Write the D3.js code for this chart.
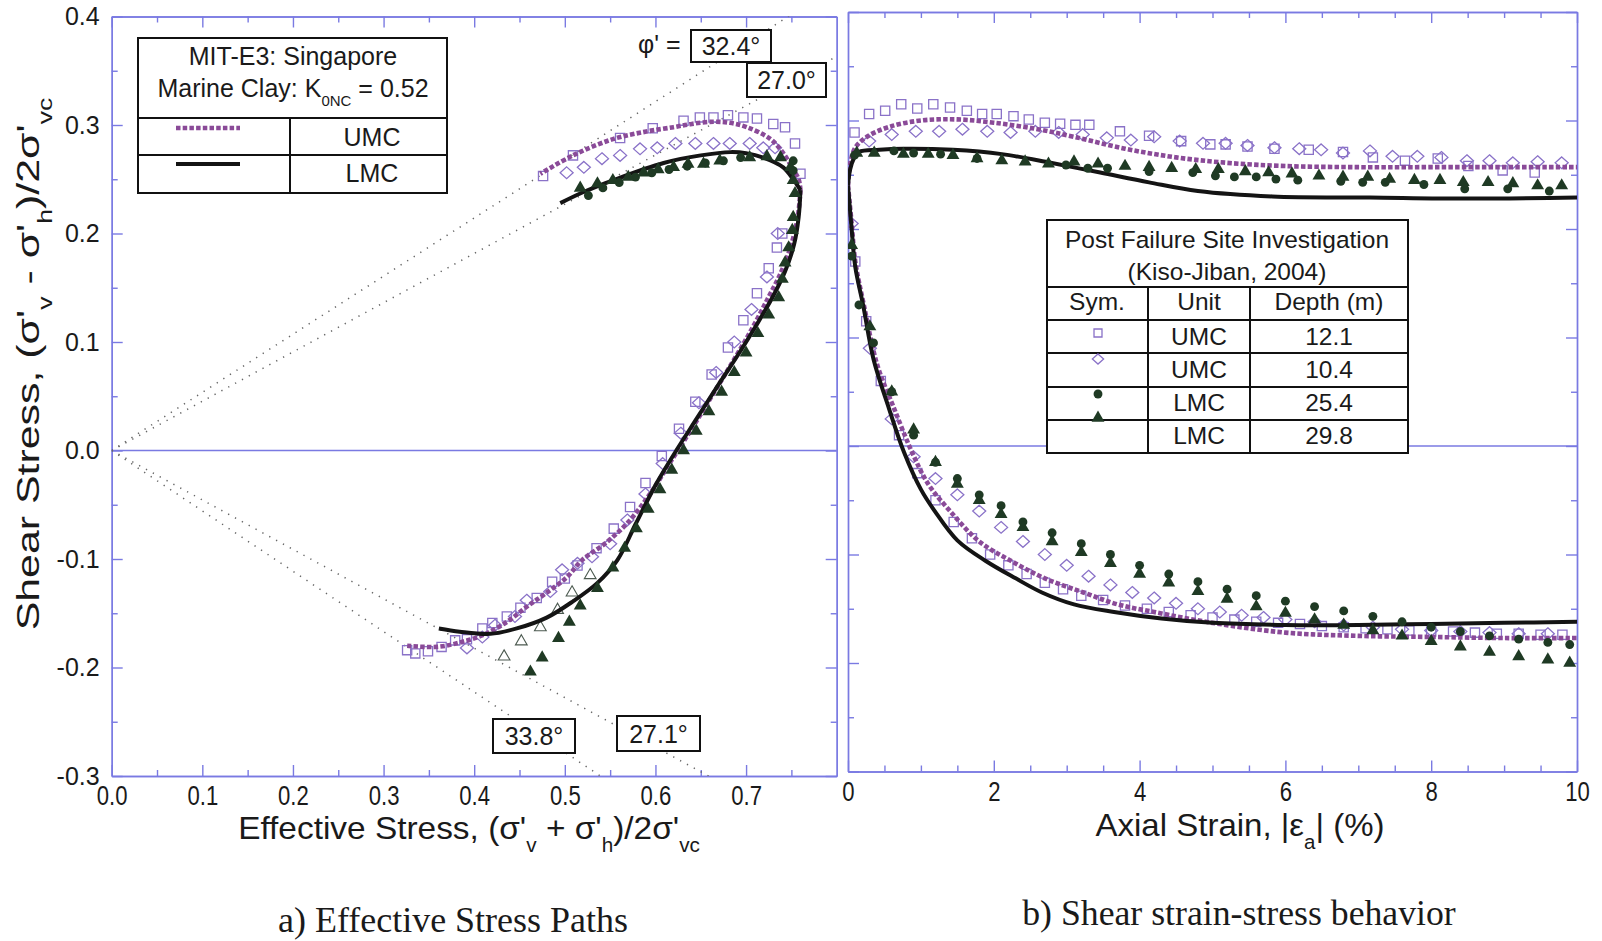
<!DOCTYPE html>
<html>
<head>
<meta charset="utf-8">
<script src="https://cdn.jsdelivr.net/npm/d3@7"></script>
<style>
  body { margin: 0; background: #fff; }
  svg text { font-family: "Liberation Sans", Arial, sans-serif; fill: #1a1a1a; }
  .serif { font-family: "Liberation Serif", "Times New Roman", serif; }
</style>
</head>
<body>
<svg id="chart" width="1602" height="941"></svg>
<script>
// ---------------- data ----------------
// a) effective stress paths: [p' , q] normalised by sigma'vc
const umcModelComp = [[0.760,0.240],[0.758,0.250],[0.752,0.259],[0.741,0.274],[0.727,0.287],[0.701,0.298],[0.682,0.302],[0.664,0.303],[0.640,0.301],[0.620,0.298],[0.590,0.294],[0.553,0.287],[0.509,0.272],[0.473,0.255]];
const lmcModelComp = [[0.760,0.240],[0.752,0.250],[0.741,0.261],[0.719,0.270],[0.700,0.274],[0.683,0.275],[0.650,0.272],[0.609,0.265],[0.553,0.249],[0.520,0.238],[0.495,0.228]];
const umcModelExt = [[0.760,0.240],[0.757,0.215],[0.750,0.190],[0.739,0.165],[0.724,0.140],[0.705,0.110],[0.684,0.080],[0.662,0.050],[0.640,0.020],[0.617,-0.010],[0.594,-0.040],[0.570,-0.066],[0.544,-0.086],[0.519,-0.101],[0.502,-0.117],[0.480,-0.131],[0.458,-0.144],[0.436,-0.158],[0.410,-0.170],[0.384,-0.177],[0.359,-0.181],[0.326,-0.180]];
const lmcModelExt = [[0.760,0.240],[0.758,0.215],[0.753,0.190],[0.743,0.165],[0.729,0.141],[0.711,0.115],[0.691,0.088],[0.669,0.060],[0.646,0.030],[0.623,0.000],[0.600,-0.032],[0.578,-0.068],[0.558,-0.101],[0.536,-0.122],[0.509,-0.139],[0.480,-0.154],[0.447,-0.164],[0.418,-0.169],[0.384,-0.167],[0.361,-0.164]];

const sq121Comp = [[0.476,0.253],[0.509,0.272],[0.561,0.288],[0.597,0.297],[0.631,0.304],[0.649,0.307],[0.664,0.307],[0.680,0.309],[0.697,0.307],[0.712,0.306],[0.730,0.301],[0.743,0.298],[0.754,0.283],[0.760,0.255]];
const dia104Comp = [[0.502,0.256],[0.521,0.261],[0.541,0.269],[0.561,0.272],[0.583,0.278],[0.602,0.279],[0.622,0.283],[0.644,0.283],[0.664,0.283],[0.682,0.283],[0.704,0.283],[0.719,0.279],[0.732,0.279]];
const circ254Comp = [[0.526,0.235],[0.542,0.242],[0.560,0.247],[0.578,0.252],[0.596,0.256],[0.615,0.259],[0.635,0.262],[0.655,0.265],[0.675,0.267],[0.694,0.270],[0.752,0.267],[0.752,0.258]];
const tri298Comp = [[0.517,0.242],[0.536,0.246],[0.553,0.249],[0.570,0.252],[0.587,0.256],[0.603,0.259],[0.620,0.261],[0.636,0.264],[0.653,0.264],[0.671,0.267],[0.704,0.270],[0.723,0.271],[0.738,0.270],[0.749,0.261],[0.752,0.249],[0.754,0.237]];

const sq121Ext = [[0.740,0.200],[0.734,0.187],[0.725,0.168],[0.712,0.145],[0.697,0.120],[0.680,0.095],[0.662,0.070],[0.644,0.045],[0.626,0.020],[0.607,-0.005],[0.589,-0.030],[0.572,-0.052],[0.554,-0.072],[0.535,-0.090],[0.514,-0.106],[0.500,-0.118],[0.486,-0.121],[0.469,-0.136],[0.451,-0.145],[0.436,-0.153],[0.420,-0.159],[0.409,-0.164],[0.392,-0.174],[0.379,-0.175],[0.364,-0.181],[0.349,-0.185],[0.335,-0.187],[0.326,-0.184]];
const dia104Ext = [[0.735,0.200],[0.723,0.160],[0.706,0.130],[0.687,0.100],[0.667,0.072],[0.648,0.044],[0.628,0.016],[0.608,-0.012],[0.589,-0.040],[0.569,-0.064],[0.550,-0.086],[0.530,-0.098],[0.514,-0.104],[0.497,-0.110],[0.484,-0.130],[0.458,-0.138],[0.445,-0.153],[0.423,-0.161],[0.409,-0.172],[0.392,-0.182]];
const tri298Ext = [[0.462,-0.204],[0.475,-0.191],[0.493,-0.173],[0.505,-0.158],[0.517,-0.143],[0.536,-0.127],[0.553,-0.108],[0.566,-0.090],[0.579,-0.072],[0.592,-0.054],[0.605,-0.036],[0.618,-0.018],[0.631,0.000],[0.645,0.018],[0.659,0.036],[0.673,0.054],[0.687,0.072],[0.700,0.090],[0.713,0.108],[0.725,0.125],[0.736,0.141],[0.740,0.158],[0.743,0.173],[0.747,0.187],[0.751,0.203],[0.752,0.215]];
const openTriExt = [[0.528,-0.115],[0.508,-0.131],[0.492,-0.147],[0.473,-0.163],[0.452,-0.176],[0.433,-0.190]];

// friction angles of the failure envelopes (degrees)
const phiComp = [32.4, 27.0];
const phiExt = [33.8, 27.1];

// b) shear stress vs axial strain: [strain %, q]
const umcStrainComp = [[0,0.240],[0.03,0.260],[0.1,0.275],[0.26,0.285],[0.56,0.294],[1.0,0.300],[1.5,0.301],[2.0,0.298],[2.6,0.292],[3.1,0.285],[3.8,0.274],[4.5,0.266],[5.2,0.261],[6,0.258],[7,0.257],[8,0.257],[9,0.257],[10,0.257]];
const lmcStrainComp = [[0,0.240],[0.03,0.255],[0.08,0.265],[0.15,0.271],[0.43,0.273],[0.76,0.274],[1.44,0.273],[2.11,0.269],[2.78,0.261],[3.46,0.252],[4.13,0.243],[4.80,0.235],[5.82,0.230],[7.16,0.229],[8.51,0.228],[10,0.229]];
const umcStrainExt = [[0,0.240],[0.05,0.205],[0.1,0.170],[0.22,0.129],[0.4,0.075],[0.63,0.035],[0.88,-0.006],[1.1,-0.035],[1.4,-0.060],[1.8,-0.088],[2.24,-0.106],[2.7,-0.122],[3.23,-0.135],[3.7,-0.146],[4.2,-0.153],[5,-0.163],[6,-0.172],[7,-0.175],[8,-0.176],[9,-0.177],[10,-0.177]];
const lmcStrainExt = [[0,0.240],[0.05,0.200],[0.1,0.165],[0.21,0.129],[0.35,0.080],[0.56,0.035],[0.77,-0.006],[1.0,-0.040],[1.19,-0.060],[1.5,-0.087],[1.89,-0.106],[2.3,-0.122],[2.66,-0.135],[3.1,-0.146],[3.65,-0.153],[4.3,-0.159],[5,-0.163],[6,-0.165],[7,-0.165],[8,-0.164],[9,-0.163],[10,-0.162]];

const sq121Strain = [[0.09,0.289],[0.29,0.306],[0.51,0.309],[0.73,0.315],[0.95,0.311],[1.17,0.315],[1.40,0.312],[1.63,0.309],[1.84,0.306],[2.04,0.306],[2.27,0.304],[2.48,0.301],[2.70,0.298],[2.91,0.297],[3.12,0.296],[3.31,0.296],[3.73,0.290],[4.13,0.286],[4.57,0.281],[4.97,0.278],[5.18,0.278],[5.48,0.276],[5.85,0.274],[6.32,0.273],[6.79,0.271],[7.20,0.266],[7.64,0.263],[8.09,0.265],[8.51,0.258],[8.98,0.254],[9.42,0.252],
  [0.10,0.170],[0.25,0.115],[0.45,0.060],[0.70,0.010],[0.95,-0.025],[1.20,-0.050],[1.45,-0.070],[1.70,-0.085],[1.95,-0.100],[2.20,-0.110],[2.45,-0.118],[2.70,-0.126],[2.95,-0.132],[3.20,-0.138],[3.50,-0.142],[3.80,-0.147],[4.10,-0.150],[4.40,-0.153],[4.70,-0.156],[5.00,-0.158],[5.30,-0.160],[5.60,-0.162],[5.90,-0.163],[6.20,-0.164],[6.50,-0.166],[6.80,-0.167],[7.10,-0.168],[7.40,-0.169],[7.70,-0.170],[8.00,-0.171],[8.30,-0.171],[8.60,-0.172],[8.90,-0.173],[9.20,-0.173],[9.50,-0.174],[9.80,-0.174]];
const dia104Strain = [[0.29,0.281],[0.60,0.287],[0.93,0.290],[1.25,0.290],[1.57,0.292],[1.91,0.290],[2.23,0.289],[2.57,0.290],[2.89,0.289],[3.22,0.287],[3.55,0.284],[3.88,0.282],[4.20,0.285],[4.55,0.281],[4.87,0.279],[5.18,0.279],[5.48,0.277],[5.85,0.275],[6.19,0.274],[6.49,0.273],[6.79,0.270],[7.16,0.272],[7.47,0.267],[7.81,0.267],[8.14,0.266],[8.49,0.263],[8.80,0.263],[9.12,0.261],[9.46,0.262],[9.79,0.261],
  [0.05,0.205],[0.30,0.090],[0.60,0.025],[0.90,-0.010],[1.20,-0.030],[1.50,-0.045],[1.80,-0.060],[2.10,-0.075],[2.40,-0.088],[2.70,-0.100],[3.00,-0.110],[3.30,-0.120],[3.60,-0.128],[3.90,-0.135],[4.20,-0.140],[4.50,-0.145],[4.80,-0.150],[5.10,-0.153],[5.40,-0.156],[5.70,-0.158],[6.00,-0.160],[6.40,-0.162],[6.80,-0.165],[7.20,-0.167],[7.60,-0.169],[8.00,-0.170],[8.40,-0.171],[8.80,-0.172],[9.20,-0.173],[9.60,-0.173]];
const circ254Strain = [[0.09,0.268],[0.63,0.272],[0.90,0.270],[1.27,0.269],[1.77,0.265],[2.99,0.259],[3.29,0.256],[3.56,0.256],[4.13,0.253],[4.73,0.252],[5.04,0.249],[5.30,0.248],[5.60,0.248],[5.87,0.246],[6.17,0.245],[6.76,0.244],[7.06,0.243],[7.37,0.243],[7.90,0.241],[8.46,0.237],[9.05,0.237],[9.62,0.235],
  [0.05,0.175],[0.15,0.130],[0.35,0.095],[0.60,0.050],[0.90,0.010],[1.20,-0.015],[1.50,-0.030],[1.80,-0.045],[2.10,-0.055],[2.40,-0.070],[2.80,-0.080],[3.20,-0.090],[3.60,-0.100],[4.00,-0.110],[4.40,-0.118],[4.80,-0.125],[5.20,-0.132],[5.60,-0.138],[6.00,-0.143],[6.40,-0.148],[6.80,-0.152],[7.20,-0.157],[7.60,-0.162],[8.00,-0.167],[8.40,-0.171],[8.80,-0.175],[9.20,-0.178],[9.60,-0.181],[9.90,-0.183]];
const tri298Strain = [[0.12,0.270],[0.36,0.270],[0.76,0.269],[1.10,0.269],[1.44,0.268],[1.77,0.265],[2.11,0.263],[2.43,0.262],[2.75,0.260],[3.10,0.262],[3.43,0.260],[3.80,0.258],[4.13,0.257],[4.44,0.256],[4.77,0.255],[5.08,0.255],[5.45,0.253],[5.77,0.252],[6.09,0.251],[6.46,0.249],[6.79,0.248],[7.13,0.248],[7.43,0.246],[7.77,0.245],[8.12,0.245],[8.44,0.243],[8.78,0.243],[9.12,0.242],[9.46,0.240],[9.79,0.240],
  [0.05,0.185],[0.30,0.110],[0.60,0.050],[0.90,0.015],[1.20,-0.015],[1.50,-0.035],[1.80,-0.050],[2.10,-0.063],[2.40,-0.075],[2.80,-0.088],[3.20,-0.098],[3.60,-0.108],[4.00,-0.118],[4.40,-0.126],[4.80,-0.134],[5.20,-0.141],[5.60,-0.148],[6.00,-0.154],[6.40,-0.160],[6.80,-0.165],[7.20,-0.170],[7.60,-0.175],[8.00,-0.180],[8.40,-0.185],[8.80,-0.190],[9.20,-0.194],[9.60,-0.197],[9.90,-0.200]];

// axis ticks
const pTicks = [0, 0.1, 0.2, 0.3, 0.4, 0.5, 0.6, 0.7];
const pMinor = [0.05, 0.15, 0.25, 0.35, 0.45, 0.55, 0.65, 0.75];
const qTicks = [-0.3, -0.2, -0.1, 0, 0.1, 0.2, 0.3, 0.4];
const qMinor = [-0.25, -0.15, -0.05, 0.05, 0.15, 0.25, 0.35];
const strainTicks = [0, 2, 4, 6, 8, 10];
const strainMinor = [0.5, 1, 1.5, 2.5, 3, 3.5, 4.5, 5, 5.5, 6.5, 7, 7.5, 8.5, 9, 9.5];

// legend tables
const modelRows = [["UMC", "dash"], ["LMC", "solid"]];
const siteRows = [["square", "UMC", "12.1"], ["diamond", "UMC", "10.4"], ["circle", "LMC", "25.4"], ["triangle", "LMC", "29.8"]];

// ---------------- styles ----------------
const AX = "#7a7ae2";
const PURPLE_LINE = "#8a4a98";
const PURPLE_MK = "#8a72c8";
const GREEN = "#1f3a24";

const svg = d3.select("#chart");

// scales
const xL = d3.scaleLinear().domain([0, 0.8]).range([111.7, 836.7]);
const yL = d3.scaleLinear().domain([-0.3, 0.4]).range([776, 16.5]);
const xR = d3.scaleLinear().domain([0, 10]).range([848, 1577]);
const yR = d3.scaleLinear().domain([-0.3, 0.4]).range([771.5, 12]);

const defs = svg.append("defs");
function clip(id, x, y) {
  defs.append("clipPath").attr("id", id).append("rect")
    .attr("x", x.range()[0]).attr("y", y.range()[1])
    .attr("width", x.range()[1] - x.range()[0]).attr("height", y.range()[0] - y.range()[1]);
}
clip("clipL", xL, yL);
clip("clipR", xR, yR);

// frame with inward ticks on all four sides
function frame(x, y, xMaj, xMin, yMaj, yMin, xFmt, yFmt) {
  const g = svg.append("g").attr("color", AX);
  const [x0, x1] = x.range(), [y0, y1] = y.range();
  const put = (axis, tx, ty) => g.append("g").attr("transform", `translate(${tx},${ty})`).call(axis);
  const bot = put(d3.axisBottom(x).tickValues(xMaj).tickSizeInner(-11).tickSizeOuter(0).tickPadding(10).tickFormat(xFmt || ""), 0, y0);
  put(d3.axisBottom(x).tickValues(xMin).tickSizeInner(-6).tickSizeOuter(0).tickFormat(""), 0, y0);
  put(d3.axisTop(x).tickValues(xMaj).tickSizeInner(-11).tickSizeOuter(0).tickFormat(""), 0, y1);
  put(d3.axisTop(x).tickValues(xMin).tickSizeInner(-6).tickSizeOuter(0).tickFormat(""), 0, y1);
  const left = put(d3.axisLeft(y).tickValues(yMaj).tickSizeInner(-11).tickSizeOuter(0).tickPadding(12).tickFormat(yFmt || ""), x0, 0);
  put(d3.axisLeft(y).tickValues(yMin).tickSizeInner(-6).tickSizeOuter(0).tickFormat(""), x0, 0);
  put(d3.axisRight(y).tickValues(yMaj).tickSizeInner(-11).tickSizeOuter(0).tickFormat(""), x1, 0);
  put(d3.axisRight(y).tickValues(yMin).tickSizeInner(-6).tickSizeOuter(0).tickFormat(""), x1, 0);
  g.selectAll("path, line").attr("stroke-width", 1.4);
  // zero line
  g.append("line").attr("x1", x0).attr("x2", x1).attr("y1", y(0)).attr("y2", y(0))
    .attr("stroke", AX).attr("stroke-width", 1.4);
  bot.selectAll("text").attr("font-size", 27).attr("fill", "#1a1a1a")
    .attr("font-family", "Liberation Sans, Arial, sans-serif").attr("transform", "scale(0.82,1)");
  left.selectAll("text").attr("font-size", 25).attr("fill", "#1a1a1a")
    .attr("font-family", "Liberation Sans, Arial, sans-serif");
  return g;
}

frame(xL, yL, pTicks, pMinor, qTicks, qMinor, d => d.toFixed(1), d => d.toFixed(1));
frame(xR, yR, strainTicks, strainMinor, qTicks, qMinor, d => String(d), null);

// ---------------- marks ----------------
const diamondType = { draw(ctx, size) { const w = Math.sqrt(size) * 0.62, h = Math.sqrt(size) * 0.56; ctx.moveTo(0, -h); ctx.lineTo(w, 0); ctx.lineTo(0, h); ctx.lineTo(-w, 0); ctx.closePath(); } };
const symbolDefs = {
  square:   { type: d3.symbolSquare,   size: 85,  fill: "none", stroke: PURPLE_MK, sw: 1.3 },
  diamond:  { type: diamondType,       size: 110, fill: "none", stroke: PURPLE_MK, sw: 1.3 },
  circle:   { type: d3.symbolCircle,   size: 62,  fill: GREEN,  stroke: "none",    sw: 0 },
  triangle: { type: d3.symbolTriangle, size: 72,  fill: GREEN,  stroke: "none",    sw: 0 },
  openTri:  { type: d3.symbolTriangle, size: 60,  fill: "none", stroke: "#4c5a50", sw: 1.1 }
};
function markers(g, data, x, y, kind) {
  const s = symbolDefs[kind];
  g.append("g").selectAll("path").data(data).join("path")
    .attr("transform", d => `translate(${x(d[0])},${y(d[1])})`)
    .attr("d", d3.symbol(s.type, s.size)())
    .attr("fill", s.fill).attr("stroke", s.stroke).attr("stroke-width", s.sw);
}
function curve(g, data, x, y, kind) {
  const line = d3.line().x(d => x(d[0])).y(d => y(d[1])).curve(d3.curveCatmullRom.alpha(0.5));
  const p = g.append("path").attr("d", line(data)).attr("fill", "none").attr("stroke-linecap", "butt");
  if (kind === "dash") p.attr("stroke", PURPLE_LINE).attr("stroke-width", 4.6).attr("stroke-dasharray", "4.5,2.2");
  else p.attr("stroke", "#141414").attr("stroke-width", 4);
}

// panel a
const gL = svg.append("g").attr("clip-path", "url(#clipL)");
const envelope = (phi, sign) => [[0, 0], [0.8, sign * 0.8 * Math.sin(phi * Math.PI / 180)]];
[[phiComp, 1], [phiExt, -1]].forEach(([phis, sign]) => phis.forEach(phi =>
  gL.append("path").attr("d", d3.line().x(d => xL(d[0])).y(d => yL(d[1]))(envelope(phi, sign)))
    .attr("stroke", "#666").attr("stroke-width", 1.5).attr("stroke-dasharray", "1.3,6.5").attr("fill", "none")));

markers(gL, sq121Comp, xL, yL, "square");
markers(gL, sq121Ext, xL, yL, "square");
markers(gL, dia104Comp, xL, yL, "diamond");
markers(gL, dia104Ext, xL, yL, "diamond");
markers(gL, openTriExt, xL, yL, "openTri");
curve(gL, umcModelComp, xL, yL, "dash");
curve(gL, umcModelExt, xL, yL, "dash");
curve(gL, lmcModelComp, xL, yL, "solid");
curve(gL, lmcModelExt, xL, yL, "solid");
markers(gL, circ254Comp, xL, yL, "circle");
markers(gL, tri298Comp, xL, yL, "triangle");
markers(gL, tri298Ext, xL, yL, "triangle");

// panel b
const gR = svg.append("g").attr("clip-path", "url(#clipR)");
markers(gR, sq121Strain, xR, yR, "square");
markers(gR, dia104Strain, xR, yR, "diamond");
curve(gR, umcStrainComp, xR, yR, "dash");
curve(gR, umcStrainExt, xR, yR, "dash");
curve(gR, lmcStrainComp, xR, yR, "solid");
curve(gR, lmcStrainExt, xR, yR, "solid");
markers(gR, circ254Strain, xR, yR, "circle");
markers(gR, tri298Strain, xR, yR, "triangle");

// ---------------- annotation boxes ----------------
function box(x, y, w, h) {
  svg.append("rect").attr("x", x).attr("y", y).attr("width", w).attr("height", h)
    .attr("fill", "#fff").attr("stroke", "#111").attr("stroke-width", 2);
}
function label(txt, x, y, size, anchor) {
  return svg.append("text").attr("x", x).attr("y", y).attr("font-size", size)
    .attr("text-anchor", anchor || "middle").text(txt);
}
svg.append("text").attr("x", 638).attr("y", 53).attr("font-size", 25).text("\u03c6' =");
box(691, 30, 80, 32);  label(phiComp[0].toFixed(1) + "\u00b0", 731, 55, 25);
box(747, 63, 79, 34);  label(phiComp[1].toFixed(1) + "\u00b0", 786.5, 89, 25);
box(493, 719, 82, 34); label(phiExt[0].toFixed(1) + "\u00b0", 534, 745, 25);
box(617, 716, 83, 35); label(phiExt[1].toFixed(1) + "\u00b0", 658.5, 743, 25);

// model legend
box(138, 38, 309, 155);
[[138, 118, 447, 118], [138, 155, 447, 155], [290, 118, 290, 193]].forEach(l =>
  svg.append("line").attr("x1", l[0]).attr("y1", l[1]).attr("x2", l[2]).attr("y2", l[3]).attr("stroke", "#111").attr("stroke-width", 2));
label("MIT-E3: Singapore", 293, 65, 25);
const kt = svg.append("text").attr("x", 293).attr("y", 97).attr("font-size", 25).attr("text-anchor", "middle");
kt.append("tspan").text("Marine Clay: K");
kt.append("tspan").attr("font-size", 15).attr("dy", 9).text("0NC");
kt.append("tspan").attr("dy", -9).text(" = 0.52");
modelRows.forEach((r, i) => {
  const cy = [128, 164][i];
  const lg = svg.append("g");
  curve(lg, [[176, cy], [240, cy]], d => d, d => d, r[1]);
  label(r[0], 372, [146, 182][i], 25);
});

// site investigation table
box(1047, 220, 361, 233);
[287, 320, 353, 387, 420].forEach(yy =>
  svg.append("line").attr("x1", 1047).attr("x2", 1408).attr("y1", yy).attr("y2", yy).attr("stroke", "#111").attr("stroke-width", 2));
[1148, 1250].forEach(xx =>
  svg.append("line").attr("x1", xx).attr("x2", xx).attr("y1", 287).attr("y2", 453).attr("stroke", "#111").attr("stroke-width", 2));
label("Post Failure Site Investigation", 1227, 248, 24.5);
label("(Kiso-Jiban, 2004)", 1227, 280, 24.5);
label("Sym.", 1097, 310, 24.5);
label("Unit", 1199, 310, 24.5);
label("Depth (m)", 1329, 310, 24.5);
const symY = [333, 359, 394, 418];
siteRows.forEach((r, i) => {
  const s = symbolDefs[r[0]];
  const sc = r[0] === "square" || r[0] === "diamond" ? 0.75 : 1;
  svg.append("path").attr("transform", `translate(1098,${symY[i]})`)
    .attr("d", d3.symbol(s.type, s.size * sc)())
    .attr("fill", s.fill).attr("stroke", s.stroke).attr("stroke-width", s.sw);
  label(r[1], 1199, 345 + i * 33, 24.5);
  label(r[2], 1329, 345 + i * 33, 24.5);
});

// ---------------- titles ----------------
function fit(sel, cx, cy, w, rot) {
  const bw = sel.node().getBBox().width;
  sel.attr("transform", `translate(${cx},${cy}) rotate(${rot || 0}) scale(${w / bw},1)`);
}
function sigmaTitle(parts, size) {
  const t = svg.append("text").attr("x", 0).attr("y", 0).attr("font-size", size).attr("text-anchor", "middle");
  parts.forEach(p => {
    if (p.sub) t.append("tspan").attr("font-size", size * 0.62).attr("dy", size * 0.42).text(p.sub);
    else t.append("tspan").attr("dy", p.back ? -size * 0.42 : 0).text(p.t);
  });
  return t;
}
const yTitle = sigmaTitle([{ t: "Shear Stress, (\u03c3'" }, { sub: "v" }, { t: " - \u03c3'", back: 1 }, { sub: "h" }, { t: ")/2\u03c3'", back: 1 }, { sub: "vc" }], 32);
fit(yTitle, 39, 364, 533, -90);
const xTitleL = sigmaTitle([{ t: "Effective Stress, (\u03c3'" }, { sub: "v" }, { t: " + \u03c3'", back: 1 }, { sub: "h" }, { t: ")/2\u03c3'", back: 1 }, { sub: "vc" }], 32);
fit(xTitleL, 469, 839, 462);
const xTitleR = sigmaTitle([{ t: "Axial Strain, |\u03b5" }, { sub: "a" }, { t: "| (%)", back: 1 }], 32);
fit(xTitleR, 1240, 836, 289);

const capA = svg.append("text").attr("class", "serif").attr("font-size", 35).attr("text-anchor", "middle").text("a) Effective Stress Paths");
fit(capA, 453, 932, 350);
const capB = svg.append("text").attr("class", "serif").attr("font-size", 35).attr("text-anchor", "middle").text("b) Shear strain-stress behavior");
fit(capB, 1239, 925, 434);
</script>
